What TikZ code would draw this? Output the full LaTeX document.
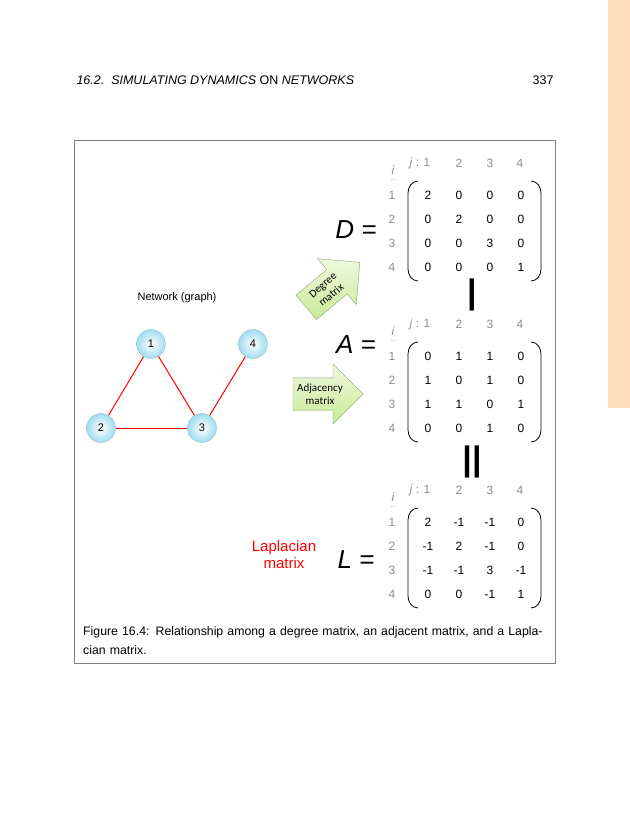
\documentclass[tikz,border=0pt]{standalone}
\usepackage{fontspec}
\setmainfont{Liberation Sans}
\newfontfamily\calibri{Carlito}
\usetikzlibrary{shapes.arrows}
\definecolor{nodeblue}{RGB}{160,220,240}
\definecolor{arrowgreen}{RGB}{200,235,150}
\definecolor{idxgray}{RGB}{140,140,140}
\tikzset{
  vertex/.style={circle,draw=nodeblue!70!gray,inner color=white,outer color=nodeblue,minimum size=29pt,inner sep=0pt,font=\fontsize{11}{11}\selectfont},
  link/.style={red,line width=1pt},
  fatarrow/.style={single arrow,draw=arrowgreen!70!black,top color=arrowgreen!30,bottom color=arrowgreen,
    single arrow head extend=10pt,minimum height=70pt,minimum width=60pt,align=center,
    font=\calibri\fontsize{11}{13}\selectfont,inner sep=1pt},
  entry/.style={font=\fontsize{12}{12}\selectfont},
  idx/.style={font=\fontsize{12}{12}\selectfont,text=idxgray},
  eqlabel/.style={font=\itshape\fontsize{26}{26}\selectfont}
}
\newcommand{\drawmatrix}[3]{%
  % #1 top y, #2 entries (4 rows), #3 name
  \node[idx] (#3j) at (420,#1) {\textit{j} : 1};
  \foreach \c/\x in {2/459,3/490,4/520} \node[idx] (#3h\c) at (\x,#1) {\c};
  \node[idx] (#3i) at (393,#1+7) {\textit{i}};
  \node[idx,font=\fontsize{8}{8}\selectfont] (#3d) at (393,#1+17) {..};
  \foreach \r [count=\k] in {#2} {
    \node[idx] (#3r\k) at (392,#1+8+24*\k) {\k};
    \foreach \v [count=\m] in \r {
      \pgfmathsetmacro{\xx}{428+31*(\m-1)}
      \node[entry] (#3e\k\m) at (\xx,#1+8+24*\k) {\v};
    }
  }
  \draw[line width=0.8pt] (418,#1+18) to[out=180,in=90] (408,#1+30) -- (408,#1+106) to[out=-90,in=180] (418,#1+118);
  \draw[line width=0.8pt] (531,#1+18) to[out=0,in=90] (541,#1+30) -- (541,#1+106) to[out=-90,in=0] (531,#1+118);
}
\begin{document}
\begin{tikzpicture}[x=1pt,y=-1pt]
\useasboundingbox (0,0) rectangle (630,815);
\fill[orange!25] (608,0) rectangle (630,408);
% page header
\node[anchor=west,font=\itshape\fontsize{12.5}{12}\selectfont] (head) at (73,80) {16.2.\ \ SIMULATING DYNAMICS {\upshape ON} NETWORKS};
\node[anchor=east,font=\fontsize{12.5}{12}\selectfont] (page) at (557,80) {337};
\draw[gray,line width=0.6pt] (74,140) rectangle (555,663);
% network
\node[font=\fontsize{11}{11}\selectfont] (title) at (177,298) {Network (graph)};
\node[vertex] (v1) at (151,344) {1};
\node[vertex] (v4) at (253,344) {4};
\node[vertex] (v2) at (101,428) {2};
\node[vertex] (v3) at (202,428) {3};
\path[link]
(v1) edge (v2)
(v1) edge (v3)
(v2) edge (v3)
(v3) edge (v4);
% arrows
\node[fatarrow,rotate=40] (degarrow) at (327,290) {Degree\\matrix};
\node[fatarrow] (adjarrow) at (320,394) {Adjacency\\matrix};
% matrices
\drawmatrix{163}{{2,0,0,0},{0,2,0,0},{0,0,3,0},{0,0,0,1}}{D}
\drawmatrix{324}{{0,1,1,0},{1,0,1,0},{1,1,0,1},{0,0,1,0}}{A}
\drawmatrix{490}{{2,-1,-1,0},{-1,2,-1,0},{-1,-1,3,-1},{0,0,-1,1}}{L}
\node[eqlabel] (Deq) at (356,230) {D =};
\node[eqlabel] (Aeq) at (356,345) {A =};
\node[eqlabel] (Leq) at (356,560) {L =};
\node[font=\fontsize{34}{34}\selectfont\bfseries] (minus) at (472,295) {|};
\node[font=\fontsize{34}{34}\selectfont\bfseries] (equals) at (472,462) {||};
\node[red,align=center,font=\fontsize{15}{17}\selectfont] (laplabel) at (284,555) {Laplacian\\matrix};
% caption
\node[anchor=north west,text width=472pt,font=\fontsize{12.3}{19}\selectfont,align=left,inner sep=0pt] (caption) at (83,626)
  {\hyphenpenalty=10000 Figure 16.4: Relationship among a degree matrix, an adjacent matrix, and a Laplacian matrix.};
\end{tikzpicture}
\end{document}
